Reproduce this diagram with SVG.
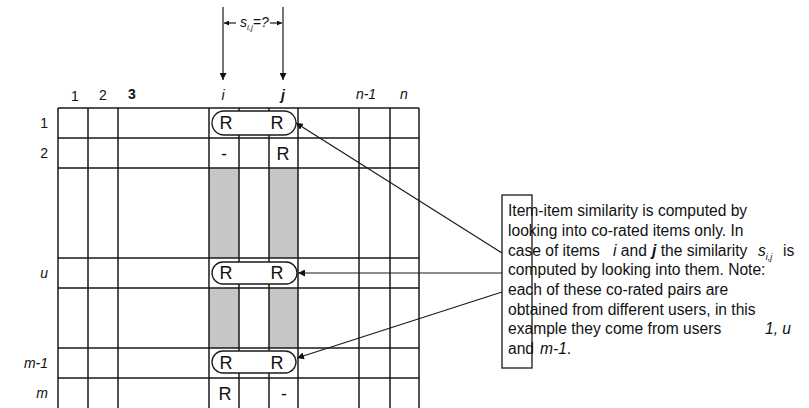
<svg xmlns="http://www.w3.org/2000/svg" width="809" height="408" viewBox="0 0 809 408">
<defs>
<marker id="ah" viewBox="0 0 10 10" refX="10" refY="5" markerWidth="7" markerHeight="7" markerUnits="userSpaceOnUse" orient="auto">
<path d="M0,0 L10,5 L0,10 z" fill="#111"/>
</marker>
<marker id="ahs" viewBox="0 0 10 10" refX="10" refY="5" markerWidth="5" markerHeight="5" markerUnits="userSpaceOnUse" orient="auto">
<path d="M0,0 L10,5 L0,10 z" fill="#111"/>
</marker>
</defs>
<style>
.g{stroke:#1a1a1a;stroke-width:1.5;fill:none}
.gray{fill:#c6c6c6}
.pill{fill:#fff;stroke:#1a1a1a;stroke-width:1.3}
.lab{font-family:"Liberation Sans",Arial,sans-serif;font-size:14px;fill:#111}
.it{font-style:italic}
.b{font-weight:bold}
.r{font-family:"Liberation Sans",Arial,sans-serif;font-size:18px;fill:#111;text-anchor:middle}
.tx{font-family:"Liberation Sans",Arial,sans-serif;font-size:15.6px;fill:#111}
.con{stroke:#1a1a1a;stroke-width:1.2;fill:none}
</style>
<rect width="809" height="408" fill="#fff"/>

<g id="grid">
<rect class="gray" x="209" y="168" width="30" height="90"/>
<rect class="gray" x="269" y="168" width="29" height="90"/>
<rect class="gray" x="209" y="288" width="30" height="60"/>
<rect class="gray" x="269" y="288" width="29" height="60"/>
<path class="g" d="M58,108V408M88,108V408M118,108V408M209,108V408M239,108V408M269,108V408M298,108V408M359,108V408M390,108V408M419,108V408"/>
<path class="g" d="M58,108H419M58,138H419M58,168H419M58,258H419M58,288H419M58,348H419M58,378H419"/>
</g>

<g id="col-labels" class="lab" text-anchor="middle">
<text x="75" y="101">1</text>
<text x="103" y="100">2</text>
<text x="132" y="99" class="b">3</text>
<text x="223" y="100" class="it">i</text>
<text x="283" y="100" class="it b">j</text>
<text x="366" y="99" class="it">n-1</text>
<text x="404" y="99" class="it">n</text>
</g>

<g id="row-labels" class="lab" text-anchor="end">
<text x="48" y="128">1</text>
<text x="48" y="158">2</text>
<text x="48" y="278" class="it">u</text>
<text x="48" y="368" class="it">m-1</text>
<text x="48" y="398" class="it">m</text>
</g>

<g id="pair-1">
<rect class="pill" x="212" y="111" width="84" height="24" rx="12"/>
<text class="r" x="226" y="129">R</text>
<text class="r" x="277" y="129">R</text>
</g>
<g id="row-2">
<text class="r" x="224" y="160">-</text>
<text class="r" x="283" y="160">R</text>
</g>
<g id="pair-u">
<rect class="pill" x="212" y="262" width="85" height="22" rx="11"/>
<text class="r" x="226" y="279">R</text>
<text class="r" x="277" y="279">R</text>
</g>
<g id="pair-m1">
<rect class="pill" x="212" y="351" width="84" height="22" rx="11"/>
<text class="r" x="226" y="369">R</text>
<text class="r" x="277" y="369">R</text>
</g>
<g id="row-m">
<text class="r" x="225" y="400">R</text>
<text class="r" x="284" y="400">-</text>
</g>

<g id="sim-label">
<text class="lab it" x="240" y="27" font-size="12">s<tspan font-size="8" dy="3">i,j</tspan><tspan dy="-3">=?</tspan></text>
</g>

<g id="note">
<rect x="502" y="195" width="30" height="173" fill="none" stroke="#1a1a1a" stroke-width="1.3"/>
<text class="tx" x="508" y="216">Item-item similarity is computed by</text>
<text class="tx" x="508" y="236">looking into co-rated items only. In</text>
<text class="tx" x="508" y="256">case of items <tspan class="it" x="613">i</tspan> and <tspan class="it b" x="652">j</tspan> the similarity <tspan class="it" x="758">s</tspan><tspan font-size="9" dy="4" class="it">i,j</tspan><tspan dy="-4" x="783">is</tspan></text>
<text class="tx" x="508" y="275">computed by looking into them. Note:</text>
<text class="tx" x="508" y="295">each of these co-rated pairs are</text>
<text class="tx" x="508" y="315">obtained from different users, in this</text>
<text class="tx" x="508" y="334">example they come from users</text>
<text class="tx it" x="765" y="334">1, u</text>
<text class="tx" x="508" y="354">and <tspan class="it" x="540">m-1</tspan>.</text>
</g>

<g id="connectors">
<line class="con" x1="223" y1="7" x2="223" y2="80" marker-end="url(#ah)" stroke-width="1.5"/>
<line class="con" x1="283" y1="7" x2="283" y2="80" marker-end="url(#ah)" stroke-width="1.5"/>
<line class="con" x1="236" y1="23" x2="224" y2="23" marker-end="url(#ahs)"/>
<line class="con" x1="270" y1="23" x2="282" y2="23" marker-end="url(#ahs)"/>
<line class="con" x1="502" y1="253" x2="296" y2="123" marker-end="url(#ah)"/>
<line class="con" x1="502" y1="273" x2="298" y2="273" marker-end="url(#ah)"/>
<line class="con" x1="502" y1="292" x2="297" y2="358" marker-end="url(#ah)"/>
</g>
</svg>
